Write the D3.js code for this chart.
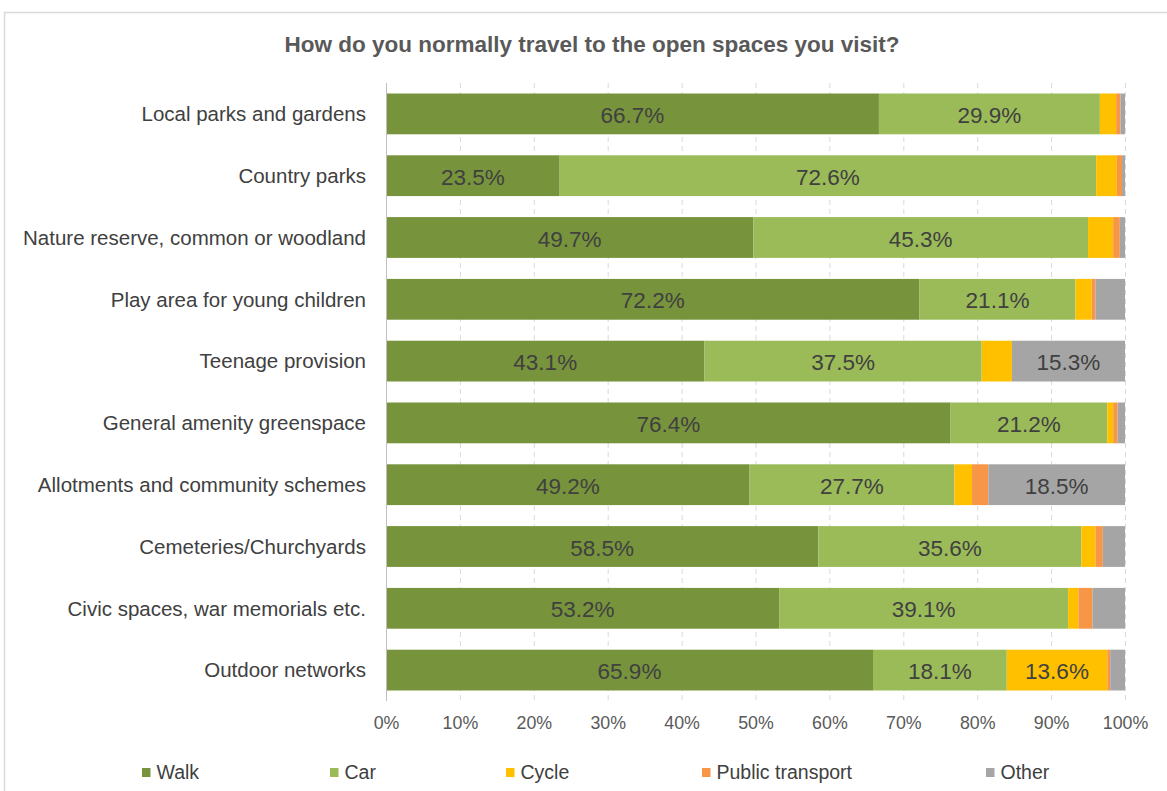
<!DOCTYPE html>
<html>
<head>
<meta charset="utf-8">
<script src="https://cdn.jsdelivr.net/npm/d3@7"></script>
<style>
  html, body { margin: 0; padding: 0; background: #fff; }
  svg { display: block; font-family: "Liberation Sans", Arial, sans-serif; }
</style>
</head>
<body>
<svg id="chart" width="1167" height="791"></svg>
<script>
// Survey responses: share of each travel mode per open-space type
const categories = [
  "Local parks and gardens",
  "Country parks",
  "Nature reserve, common or woodland",
  "Play area for young children",
  "Teenage provision",
  "General amenity greenspace",
  "Allotments and community schemes",
  "Cemeteries/Churchyards",
  "Civic spaces, war memorials etc.",
  "Outdoor networks"
];
const seriesNames = ["Walk", "Car", "Cycle", "Public transport", "Other"];
const walk            = [66.7, 23.5, 49.7, 72.2, 43.1, 76.4, 49.2, 58.5, 53.2, 65.9];
const car             = [29.9, 72.6, 45.3, 21.1, 37.5, 21.2, 27.7, 35.6, 39.1, 18.1];
const cycle           = [ 2.2,  2.8,  3.4,  2.2,  4.1,  0.8,  2.4,  1.9,  1.4, 13.6];
const publicTransport = [ 0.6,  0.7,  0.9,  0.5,  0.0,  0.6,  2.2,  1.0,  1.9,  0.4];
const other           = [ 0.6,  0.4,  0.7,  4.0, 15.3,  1.0, 18.5,  3.0,  4.4,  2.0];
const tickValues = [0, 10, 20, 30, 40, 50, 60, 70, 80, 90, 100];
const colors = ["#77933C", "#9BBB59", "#FFC000", "#F79646", "#A5A5A5"];

const seriesValues = [walk, car, cycle, publicTransport, other];
const rows = categories.map((c, i) => {
  const r = { category: c };
  seriesNames.forEach((s, k) => { r[s] = seriesValues[k][i]; });
  return r;
});

const svg = d3.select("#chart");
const W = 1167, H = 791;
const margin = { left: 386, right: 42, top: 83, bottom: 90 };

// chart frame
svg.append("rect")
  .attr("x", 4.5).attr("y", 12.5)
  .attr("width", W + 10).attr("height", H + 10)
  .attr("fill", "#fff").attr("stroke", "#d9d9d9").attr("stroke-width", 1.5);

// title
svg.append("text")
  .attr("x", 592).attr("y", 52)
  .attr("text-anchor", "middle")
  .attr("font-size", 22.5).attr("font-weight", "bold")
  .attr("fill", "#595959")
  .text("How do you normally travel to the open spaces you visit?");

const x = d3.scaleLinear().domain([0, 100]).range([margin.left, W - margin.right]);
const y = d3.scaleBand().domain(categories)
  .range([margin.top, H - margin.bottom]).paddingInner(0.34).paddingOuter(0.17);

// vertical dashed gridlines
svg.append("g")
  .selectAll("line").data(tickValues.slice(1)).join("line")
  .attr("x1", d => x(d) + 0.5).attr("x2", d => x(d) + 0.5)
  .attr("y1", margin.top).attr("y2", H - margin.bottom)
  .attr("stroke", "#d9d9d9").attr("stroke-width", 1)
  .attr("stroke-dasharray", "5,4");

// stacked bars
const stack = d3.stack().keys(seriesNames);
const layers = stack(rows);

const layerG = svg.append("g").selectAll("g").data(layers).join("g")
  .attr("fill", (d, i) => colors[i]);

layerG.selectAll("rect").data(d => d).join("rect")
  .attr("x", d => x(d[0]))
  .attr("width", d => Math.max(0, x(d[1]) - x(d[0])))
  .attr("y", d => y(d.data.category))
  .attr("height", y.bandwidth());

// value labels for larger segments
layerG.selectAll("text").data(d => d.filter(p => p[1] - p[0] >= 10)).join("text")
  .attr("x", d => (x(d[0]) + x(d[1])) / 2)
  .attr("y", d => y(d.data.category) + y.bandwidth() / 2 + 1)
  .attr("dy", "0.36em")
  .attr("text-anchor", "middle")
  .attr("font-size", 22.5)
  .attr("fill", "#404040")
  .text(d => (d[1] - d[0]).toFixed(1) + "%");

// left axis line
svg.append("line")
  .attr("x1", margin.left + 0.5).attr("x2", margin.left + 0.5)
  .attr("y1", margin.top).attr("y2", H - margin.bottom)
  .attr("stroke", "#bfbfbf").attr("stroke-width", 1);

// category labels
const yAxis = svg.append("g")
  .attr("transform", `translate(${margin.left - 20},0)`)
  .call(d3.axisLeft(y).tickSize(0).tickPadding(0));
yAxis.select(".domain").remove();
yAxis.selectAll("text")
  .attr("font-size", 20.5).attr("fill", "#404040")
  .attr("dy", "0.36em")
  .attr("font-family", "Liberation Sans, Arial, sans-serif");

// bottom axis labels
const xAxis = svg.append("g")
  .attr("transform", `translate(0,${H - margin.bottom})`)
  .call(d3.axisBottom(x).tickValues(tickValues).tickSize(0).tickPadding(15)
    .tickFormat(d => d + "%"));
xAxis.select(".domain").remove();
xAxis.selectAll("text")
  .attr("font-size", 17.8).attr("fill", "#595959")
  .attr("font-family", "Liberation Sans, Arial, sans-serif");

// legend
const legendX = [142, 330, 506, 702, 986];
const legend = svg.append("g").selectAll("g").data(seriesNames).join("g")
  .attr("transform", (d, i) => `translate(${legendX[i]},773)`);
legend.append("rect")
  .attr("x", 0).attr("y", -5).attr("width", 8.5).attr("height", 9)
  .attr("fill", (d, i) => colors[i]);
legend.append("text")
  .attr("x", 14.5).attr("y", 6)
  .attr("font-size", 19.5).attr("fill", "#404040")
  .text(d => d);
</script>
</body>
</html>
